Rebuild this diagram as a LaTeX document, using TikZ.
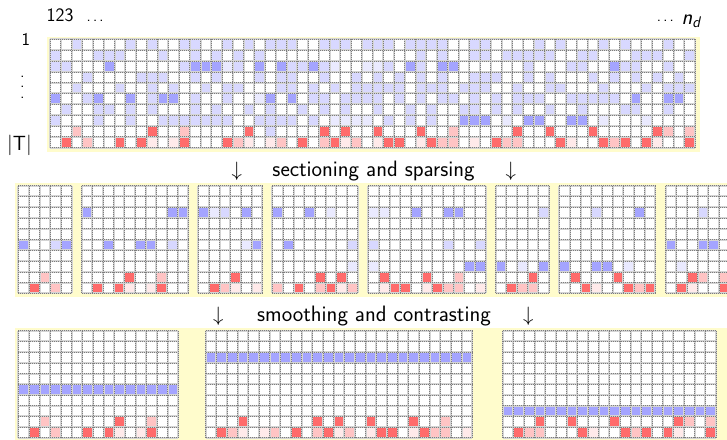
\documentclass[tikz,border=0pt]{standalone}
\usepackage{fontspec}
\definecolor{cLB}{RGB}{216,216,255}
\definecolor{cMB}{RGB}{164,164,255}
\definecolor{cVLB}{RGB}{234,234,255}
\definecolor{cR}{RGB}{255,107,107}
\definecolor{cLR}{RGB}{255,196,196}
\definecolor{cVLR}{RGB}{255,234,234}
\definecolor{cY}{RGB}{255,252,204}
\definecolor{gridL}{RGB}{212,212,212}
\definecolor{gridD}{RGB}{125,125,125}
\tikzset{
  gl/.style={draw=gridL, line width=2pt},
  gd/.style={draw=gridD, line width=0.55pt, dash pattern=on 0.8pt off 1.2pt},
  lbl/.style={inner sep=0pt, font=\sffamily\fontsize{22.3}{26}\selectfont},
  arr/.style={inner sep=0pt, font=\fontsize{20.74}{24}\selectfont},
  vdot/.style={inner sep=0pt, font=\sffamily\bfseries\fontsize{10}{10}\selectfont},
}
\newcommand\mydots{\hbox{.\kern2.2pt.\kern2.2pt.}}
\newcommand\gridlines[6]{%
  \foreach \i in {0,...,#3}{\draw[gl] ({#1+\i*#5},{#2}) -- ({#1+\i*#5},{#2+#4*#6});}
  \foreach \j in {0,...,#4}{\draw[gl] ({#1},{#2+\j*#6}) -- ({#1+#3*#5},{#2+\j*#6});}
  \foreach \i in {0,...,#3}{\draw[gd] ({#1+\i*#5},{#2}) -- ({#1+\i*#5},{#2+#4*#6});}
  \foreach \j in {0,...,#4}{\draw[gd] ({#1},{#2+\j*#6}) -- ({#1+#3*#5},{#2+\j*#6});}
}
\newcommand\tcell[3]{\fill[fill=#3] ({50+10.75*#1},{39.3+10.83*#2}) rectangle ++(10.75,10.83);}
\newcommand\mcell[3]{%
  \pgfmathsetmacro\mx{ifthenelse(#1<5,18.3+10.67*#1,ifthenelse(#1<15,81.7+10.67*(#1-5),ifthenelse(#1<21,198.3+10.67*(#1-15),ifthenelse(#1<29,272.3+10.67*(#1-21),ifthenelse(#1<40,368.3+10.67*(#1-29),ifthenelse(#1<45,495.7+10.67*(#1-40),ifthenelse(#1<54,559.3+10.67*(#1-45),665.7+10.67*(#1-54))))))))}%
  \fill[fill=#3] (\mx,{185.7+10.76*#2}) rectangle ++(10.67,10.76);}
\newcommand\bcell[3]{%
  \pgfmathsetmacro\bx{ifthenelse(#1<15,18.3+10.66*#1,ifthenelse(#1<40,205.7+10.66*(#1-15),502.7+10.66*(#1-40)))}%
  \fill[fill=#3] (\bx,{330.7+10.7*#2}) rectangle ++(10.66,10.7);}
\def\reds{2/8/cLR,9/8/cR,12/8/cLR,18/8/cR,25/8/cR,27/8/cR,30/8/cR,34/8/cR,37/8/cLR,43/8/cR,46/8/cR,50/8/cR,56/8/cR,57/8/cLR,59/8/cLR,
1/9/cR,3/9/cLR,6/9/cR,8/9/cR,9/9/cVLR,11/9/cVLR,12/9/cR,16/9/cR,17/9/cLR,18/9/cVLR,20/9/cVLR,21/9/cLR,23/9/cR,25/9/cLR,26/9/cR,27/9/cVLR,28/9/cLR,30/9/cVLR,31/9/cR,32/9/cR,34/9/cVLR,35/9/cR,36/9/cLR,37/9/cLR,39/9/cVLR,41/9/cR,42/9/cLR,43/9/cLR,47/9/cR,48/9/cVLR,51/9/cR,52/9/cLR,53/9/cR,55/9/cR,56/9/cVLR,59/9/cR}
\def\midblues{0/5/cMB,3/5/cLB,4/5/cMB,5/2/cMB,13/2/cMB,14/2/cMB,7/5/cMB,10/5/cMB,11/5/cMB,13/5/cLB,
15/2/cMB,16/2/cVLB,17/2/cLB,19/2/cMB,19/5/cVLB,20/5/cMB,21/2/cMB,24/2/cMB,26/2/cVLB,22/5/cMB,28/5/cLB,28/7/cVLB,
29/2/cVLB,30/2/cVLB,33/2/cMB,36/2/cMB,37/2/cMB,29/5/cLB,36/5/cLB,39/5/cLB,29/7/cVLB,38/7/cMB,39/7/cMB,
44/2/cLB,40/7/cMB,42/7/cVLB,44/7/cMB,48/2/cLB,52/2/cMB,45/7/cMB,48/7/cMB,49/7/cMB,51/7/cVLB,
57/2/cLB,54/5/cMB,57/5/cMB,58/5/cMB,55/7/cVLB}
\begin{document}
\begin{tikzpicture}[x=1pt,y=-1pt]
\useasboundingbox (0,0) rectangle (727,439);
\fill[white] (0,0) rectangle (727,439);
% ---------- top grid ----------
\fill[cY] (46.7,37.3) rectangle (700,151.7);
\fill[white] (50,39.3) rectangle ++(645,108.3);
\foreach \c in {2,7,9,12,13,16,18,20,21,22,25,26,27,29,30,31,33,34,35,36,39,40,45,47,51,53,57}{\tcell{\c}{0}{cLB}}
\foreach \c in {0,4,5,6,10,13,15,17,19,34,36,39,40,42,43,44,45,46,49,50,54,55,56,59}{\tcell{\c}{1}{cLB}}
\foreach \c in {0,1,12,17,22,23,25,31,34,44,48,49,53,54,57}{\tcell{\c}{2}{cLB}}
\foreach \c in {5,13,14,15,19,21,24,33,36,37,52}{\tcell{\c}{2}{cMB}}
\foreach \c in {16,26,29,30}{\tcell{\c}{2}{cVLB}}
\foreach \c in {3,8,9,10,13,15,19,21,22,25,28,30,32,34,36,39,40,41,44,46,50,52,54,56,58}{\tcell{\c}{3}{cLB}}
\foreach \c in {2,6,9,11,14,16,17,21,22,24,26,28,29,30,31,32,34,35,36,38,39,40,43,46,47,51,55,57,58,59}{\tcell{\c}{4}{cLB}}
\foreach \c in {0,4,7,10,11,20,22,54,57,58}{\tcell{\c}{5}{cMB}}
\foreach \c in {3,9,13,16,24,25,27,28,29,30,32,34,36,37,39,41,43,44,45,48,49,50,51,52}{\tcell{\c}{5}{cLB}}
\tcell{19}{5}{cVLB}
\foreach \c in {1,4,5,7,9,13,15,18,20,23,25,27,30,33,35,38,39,41,43,46,49,53,54,57}{\tcell{\c}{6}{cLB}}
\foreach \c in {0,4,7,10,11,12,13,14,15,16,19,20,21,22,24,31,33,35}{\tcell{\c}{7}{cLB}}
\foreach \c in {26,27,28,29,42,51,55}{\tcell{\c}{7}{cVLB}}
\foreach \c in {38,39,40,44,45,48,49}{\tcell{\c}{7}{cMB}}
\tcell{20}{8}{cLB}
\foreach \c/\r/\k in \reds {\tcell{\c}{\r}{\k}}
\gridlines{50}{39.3}{60}{10}{10.75}{10.83}
% ---------- middle ----------
\fill[cY] (15,183.3) rectangle (740,296.7);
\foreach \x/\n in {18.3/5,81.7/10,198.3/6,272.3/8,368.3/11,495.7/5,559.3/9,665.7/6}{\fill[white] (\x,185.7) rectangle ++({\n*10.67},107.6);}
\foreach \c/\r/\k in \midblues {\mcell{\c}{\r}{\k}}
\foreach \c/\r/\k in \reds {\mcell{\c}{\r}{\k}}
\foreach \x/\n in {18.3/5,81.7/10,198.3/6,272.3/8,368.3/11,495.7/5,559.3/9,665.7/6}{\gridlines{\x}{185.7}{\n}{10}{10.67}{10.76}}
% ---------- bottom ----------
\fill[cY] (15,328.3) rectangle (740,450);
\foreach \x/\n in {18.3/15,205.7/25,502.7/20}{\fill[white] (\x,330.7) rectangle ++({\n*10.66},107);}
\foreach \c in {0,...,14}{\bcell{\c}{5}{cMB}}
\foreach \c in {15,...,39}{\bcell{\c}{2}{cMB}}
\foreach \c in {40,...,59}{\bcell{\c}{7}{cMB}}
\foreach \c/\r/\k in \reds {\bcell{\c}{\r}{\k}}
\foreach \x/\n in {18.3/15,205.7/25,502.7/20}{\gridlines{\x}{330.7}{\n}{10}{10.66}{10.7}}
% ---------- labels ----------
\node[anchor=base west, inner sep=0pt, font=\sffamily\fontsize{19}{22}\selectfont] (cols) at (46.5,21.7) {123};
\node[anchor=base west, inner sep=0pt, font=\sffamily\fontsize{16}{18}\selectfont] (dotsl) at (86.5,21.7) {\mydots};
\node[anchor=base east, inner sep=0pt, font=\sffamily\fontsize{16}{18}\selectfont] (dotsr) at (674,21.7) {\mydots};
\node[anchor=base west, inner sep=0pt, font=\sffamily\fontsize{22}{26}\selectfont] (nd) at (681.5,24) {\itshape n\textsubscript{\itshape d}};
\node[anchor=base, inner sep=0pt, font=\sffamily\fontsize{18}{22}\selectfont] (one) at (25.8,45) {1};
\node[vdot, anchor=base] (vd1) at (22.3,77) {.};
\node[vdot, anchor=base] (vd2) at (22.3,87.7) {.};
\node[vdot, anchor=base] (vd3) at (22.3,98.4) {.};
\node[anchor=base, inner sep=0pt, font=\sffamily\fontsize{20.5}{24}\selectfont] (T) at (19.5,150.7) {|T|};
\node[arr, anchor=base] (a1) at (236.7,176.5) {$\downarrow$};
\node[lbl, anchor=base] (t1) at (373.5,176.5) {sectioning and sparsing};
\node[arr, anchor=base] (a2) at (510.7,176.5) {$\downarrow$};
\node[arr, anchor=base] (a3) at (218.3,321.5) {$\downarrow$};
\node[lbl, anchor=base] (t2) at (374,321.5) {smoothing and contrasting};
\node[arr, anchor=base] (a4) at (528.3,321.5) {$\downarrow$};
\end{tikzpicture}
\end{document}
